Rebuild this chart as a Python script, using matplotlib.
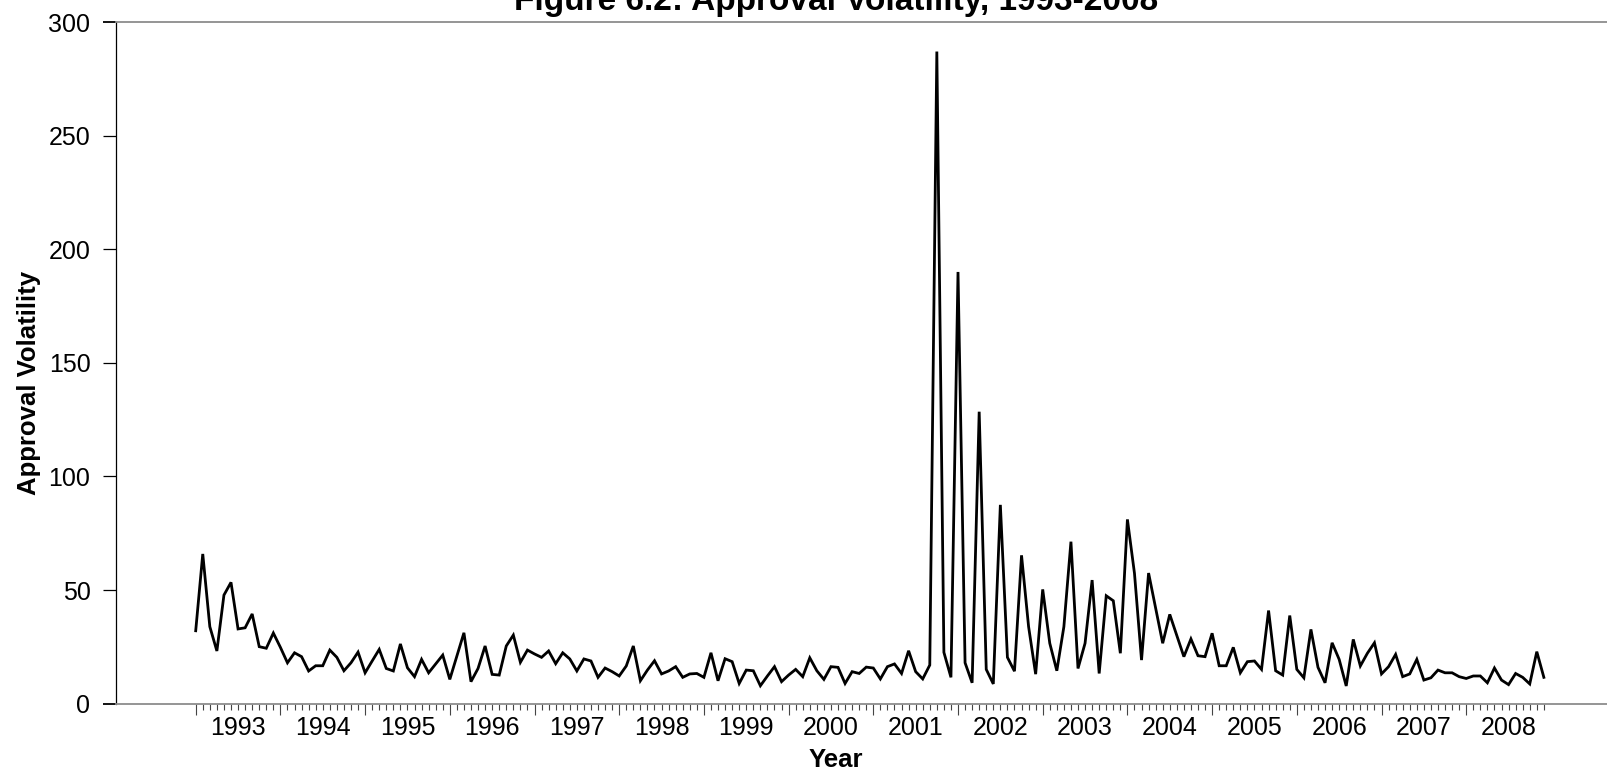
import matplotlib
matplotlib.use("Agg")
import matplotlib.pyplot as plt
import numpy as np

plt.rcParams['font.family'] = ['Liberation Sans', 'DejaVu Sans']

# ---- data: monthly approval volatility, Jan 1993 .. Dec 2008 ----
start_year = 1993
volatility = [
    32.1, 65.9, 33.9, 23.2, 47.8, 53.4, 32.9, 33.4, 39.5, 25.1, 24.4, 31.1,   # 1993
    24.8, 18.0, 22.4, 20.7, 14.4, 16.7, 16.7, 23.6, 20.4, 14.5, 18.0, 22.7,   # 1994
    13.6, 18.8, 23.9, 15.5, 14.4, 26.3, 15.8, 11.9, 19.5, 13.6, 17.5, 21.4,   # 1995
    10.7, 21.0, 31.2, 9.7, 15.5, 25.4, 12.9, 12.6, 25.4, 30.2, 18.2, 23.6,    # 1996
    21.9, 20.4, 23.2, 17.6, 22.4, 19.7, 14.4, 19.7, 18.8, 11.6, 15.7, 14.1,   # 1997
    12.2, 16.6, 25.4, 10.1, 14.8, 18.9, 13.1, 14.4, 16.3, 11.6, 13.1, 13.3,   # 1998
    11.6, 22.4, 10.1, 19.8, 18.5, 8.9, 14.8, 14.5, 7.9, 12.2, 16.3, 9.7,      # 1999
    12.6, 15.1, 11.9, 20.2, 14.5, 10.7, 16.3, 16.0, 8.9, 14.1, 13.3, 16.1,    # 2000
    15.7, 10.9, 16.3, 17.5, 13.3, 23.3, 14.1, 10.9, 17.0, 287.0, 22.6, 11.6,  # 2001
    190.0, 18.0, 9.2, 128.5, 15.1, 8.7, 87.5, 20.4, 14.3, 65.3, 33.9, 13.0,   # 2002
    50.3, 26.6, 14.5, 33.9, 71.3, 15.5, 26.6, 54.4, 13.3, 47.5, 45.3, 22.2,   # 2003
    81.1, 57.4, 19.2, 57.5, 42.0, 26.6, 39.3, 30.0, 20.7, 28.5, 21.1, 20.7,   # 2004
    31.0, 16.7, 16.7, 24.8, 13.6, 18.5, 18.8, 15.1, 41.0, 14.5, 12.6, 38.8,   # 2005
    15.1, 11.4, 32.7, 16.0, 9.2, 26.8, 19.5, 7.8, 28.3, 16.6, 22.2, 26.8,     # 2006
    13.1, 16.3, 21.7, 11.9, 13.1, 19.5, 10.4, 11.4, 14.8, 13.6, 13.6, 11.9,   # 2007
    11.1, 12.2, 12.2, 9.2, 15.7, 10.4, 8.4, 13.3, 11.6, 8.7, 22.9, 11.6,      # 2008
]
year_labels = [str(y) for y in range(1993, 2009)]
y_ticks = [0, 50, 100, 150, 200, 250, 300]

title = "Figure 6.2: Approval Volatility, 1993-2008"
xlabel = "Year"
ylabel = "Approval Volatility"

# ---- figure ----
W, H = 1608, 773
fig = plt.figure(figsize=(W / 100, H / 100), dpi=100)
ax_left, ax_right = 116 / W, 1.0
ax_bottom, ax_top = 1 - 703.7 / H, 1 - 22 / H
ax = fig.add_axes([ax_left, ax_bottom, ax_right - ax_left, ax_top - ax_bottom])

x = start_year + np.arange(len(volatility)) / 12.0
ax.plot(x, volatility, color='black', lw=2.0, solid_joinstyle='miter')

ax.set_ylim(0, 300)
ax.set_xlim(1992.059, 2009.674)

# spines
ax.spines['right'].set_visible(False)
ax.spines['left'].set_color('black')
ax.spines['left'].set_linewidth(0.9)
for s in ('top', 'bottom'):
    ax.spines[s].set_color('#8c8c8c')
    ax.spines[s].set_linewidth(1.3)

# y ticks
ax.set_yticks(y_ticks)
ax.set_yticklabels([str(v) for v in y_ticks])
ax.tick_params(axis='y', which='major', direction='out', length=9.4, width=0.9,
               color='black', pad=9, labelsize=18)
yt = ax.yaxis.get_major_ticks()
for t in (yt[0], yt[-1]):
    t.tick1line.set_color('#8c8c8c')
    t.tick1line.set_markeredgewidth(1.3)

# x ticks: year starts (major), months (minor)
years = np.arange(1993, 2009)
months = start_year + np.arange(len(volatility)) / 12.0
ax.set_xticks(years)
ax.set_xticklabels([])
ax.set_xticks([m for m in months if abs(m - round(m)) > 1e-6], minor=True)
ax.tick_params(axis='x', which='major', direction='out', length=7.9, width=0.8,
               color='#444444')
ax.tick_params(axis='x', which='minor', direction='out', length=4.3, width=0.8,
               color='#444444')

# year labels centred on each year
for yr, lab in zip(years, year_labels):
    ax.text(yr + 0.5, -0.018, lab, transform=ax.get_xaxis_transform(),
            ha='center', va='top', fontsize=18)

ax.set_xlabel(xlabel, fontsize=18.5, fontweight='bold', va='baseline')
ax.xaxis.set_label_coords((835.5 - 116) / (W - 116), (703.7 - 767) / 681.7)
ax.set_ylabel(ylabel, fontsize=18.5, fontweight='bold', va='center')
ax.yaxis.set_label_coords((28.7 - 116) / (W - 116), (703.7 - 383) / 681.7)

fig.text(836 / W, 1 - 10 / H, title, ha='center', va='baseline',
         fontsize=24, fontweight='bold')

fig.savefig('out.png', dpi=100)
